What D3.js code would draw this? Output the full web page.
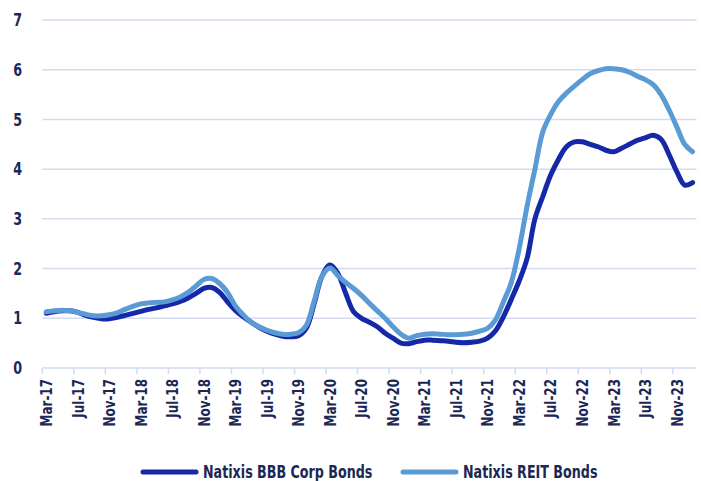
<!DOCTYPE html>
<html lang="en">
<head>
  <meta charset="UTF-8">
  <title>Natixis BBB vs REIT Bonds</title>
  <style>
    body { margin: 0; background: #fff; }
    svg { display: block; }
    text { font-family: "DejaVu Sans Condensed", "DejaVu Sans", sans-serif; font-weight: bold; fill: #1b2754; }
    .grid line { stroke: #d4dbf0; stroke-width: 1.5; }
    .line { fill: none; stroke-width: 5; stroke-linecap: round; stroke-linejoin: round; }
  </style>
</head>
<body>
  <svg width="701" height="481"></svg>
  <script src="https://d3js.org/d3.v7.min.js"></script>
  <script>
    // monthly, Mar-17 .. Jan-24
    const months = d3.timeMonth.range(new Date(2017, 2, 1), new Date(2024, 1, 1));
    const fmt = d3.timeFormat("%b-%y");
    const categories = months.map(fmt);

    const bbb = [
      1.10, 1.13, 1.15, 1.15, 1.12, 1.06, 1.02, 0.99, 0.99, 1.02,
      1.06, 1.10, 1.14, 1.18, 1.21, 1.25, 1.29, 1.34, 1.41, 1.50,
      1.60, 1.62, 1.52, 1.33, 1.16, 1.03, 0.92, 0.82, 0.74, 0.68,
      0.64, 0.63, 0.65, 0.80, 1.30, 1.85, 2.07, 1.90, 1.50, 1.13,
      1.00, 0.92, 0.83, 0.70, 0.60, 0.50, 0.49, 0.53, 0.56, 0.56,
      0.55, 0.54, 0.52, 0.51, 0.52, 0.54, 0.60, 0.75, 1.03, 1.38,
      1.75, 2.20, 3.00, 3.45, 3.88, 4.20, 4.45, 4.55, 4.55, 4.50,
      4.45, 4.38, 4.35, 4.42, 4.50, 4.58, 4.63, 4.68, 4.60, 4.30,
      3.95, 3.68, 3.73
    ];

    const reit = [
      1.13, 1.15, 1.16, 1.15, 1.12, 1.08, 1.05, 1.05, 1.07, 1.11,
      1.18, 1.24, 1.29, 1.31, 1.32, 1.33, 1.37, 1.43, 1.52, 1.65,
      1.78, 1.80, 1.70, 1.52, 1.25, 1.07, 0.92, 0.83, 0.76, 0.71,
      0.68, 0.68, 0.71, 0.86, 1.35, 1.85, 2.01, 1.86, 1.72, 1.60,
      1.46, 1.30, 1.15, 1.00, 0.83, 0.68, 0.60, 0.65, 0.68, 0.69,
      0.68, 0.67, 0.67, 0.68, 0.70, 0.74, 0.80, 0.97, 1.33, 1.72,
      2.40, 3.25, 4.00, 4.75, 5.10, 5.36, 5.53, 5.67, 5.80, 5.92,
      5.98, 6.02, 6.02, 6.00, 5.95, 5.87, 5.80, 5.70, 5.50, 5.20,
      4.85, 4.50, 4.35
    ];

    const seriesNames = ["Natixis BBB Corp Bonds", "Natixis REIT Bonds"];
    const seriesColors = ["#1428a8", "#5b9bd5"];
    const yTicks = [0, 1, 2, 3, 4, 5, 6, 7];

    const svg = d3.select("svg");
    const mLeft = 42.3, mRight = 696.5, mTop = 20, mBottom = 368;
    const squeeze = 0.83; // the original uses a narrow DIN-style face

    const x = d3.scaleBand().domain(categories).range([mLeft, mRight]).padding(0);
    const y = d3.scaleLinear().domain([0, 7]).range([mBottom, mTop]);
    const cx = d => x(d) + x.bandwidth() / 2;

    function narrow(sel) {
      sel.each(function () {
        const w = this.getComputedTextLength();
        d3.select(this).attr("textLength", w * squeeze).attr("lengthAdjust", "spacingAndGlyphs");
      });
    }

    // gridlines
    svg.append("g").attr("class", "grid")
      .selectAll("line")
      .data(yTicks)
      .join("line")
      .attr("x1", mLeft).attr("x2", mRight)
      .attr("y1", d => y(d)).attr("y2", d => y(d));

    // y labels
    svg.append("g")
      .selectAll("text")
      .data(yTicks)
      .join("text")
      .attr("x", 22)
      .attr("y", d => y(d))
      .attr("dy", "0.36em")
      .attr("text-anchor", "end")
      .style("font-size", "17px")
      .text(d => d)
      .call(narrow);

    // x tick marks at category boundaries, every 4 months
    const tickCats = categories.filter((d, i) => i % 4 === 0);
    svg.append("g").attr("class", "grid")
      .selectAll("line")
      .data(tickCats)
      .join("line")
      .attr("x1", d => x(d)).attr("x2", d => x(d))
      .attr("y1", mBottom).attr("y2", mBottom + 6);

    // x labels
    svg.append("g")
      .selectAll("text")
      .data(tickCats)
      .join("text")
      .attr("transform", d => `translate(${cx(d)},${mBottom + 11}) rotate(-90)`)
      .attr("dy", "0.36em")
      .attr("text-anchor", "end")
      .style("font-size", "16px")
      .text(d => d)
      .call(narrow);

    // lines
    const line = d3.line()
      .x((d, i) => cx(categories[i]))
      .y(d => y(d))
      .curve(d3.curveCatmullRom.alpha(0.5));

    [bbb, reit].forEach((vals, k) => {
      svg.append("path")
        .datum(vals)
        .attr("class", "line")
        .attr("stroke", seriesColors[k])
        .attr("d", line);
    });

    // legend
    const legendX = [143, 403];
    const legend = svg.append("g")
      .selectAll("g")
      .data(seriesNames)
      .join("g")
      .attr("transform", (d, i) => `translate(${legendX[i]},472)`);
    legend.append("line")
      .attr("x1", 0).attr("x2", 53)
      .attr("stroke", (d, i) => seriesColors[i])
      .attr("stroke-width", 5)
      .attr("stroke-linecap", "round");
    legend.append("text")
      .attr("x", 60)
      .attr("dy", "0.36em")
      .style("font-size", "17px")
      .text(d => d)
      .call(narrow);
  </script>
</body>
</html>
